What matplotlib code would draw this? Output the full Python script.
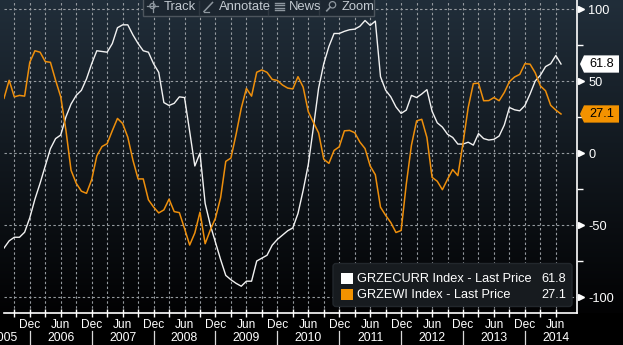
import matplotlib
matplotlib.use("Agg")
import matplotlib.pyplot as plt
import numpy as np
import pandas as pd
from matplotlib.transforms import blended_transform_factory
from matplotlib.patches import Polygon, FancyBboxPatch, Rectangle, Circle

plt.rcParams["font.family"] = ["Liberation Sans", "DejaVu Sans"]

# ---------------------------------------------------------------- data
months = pd.period_range("2005-07", "2014-07", freq="M")

# ZEW Germany current situation (white)
grzecurr = [
    -66, -61, -58.5, -58.5, -55, -45,                                   # 2005 H2
    -32, -21, -9, 3, 10, 12.5, 25, 34, 40, 43.5, 51.5, 62,              # 2006
    71, 70.5, 70, 76, 87, 89, 89, 82, 76, 71, 70, 62,                   # 2007
    56, 35, 33, 34.5, 39, 38.5, 15, -9, 0, -35, -50, -62,               # 2008
    -74, -85, -88, -90.5, -92.5, -89, -89, -75, -73, -71, -64, -60,     # 2009
    -57, -54, -52, -42, -26, -8, 18, 45, 62, 74, 83, 83,                # 2010
    84.5, 85.6, 86, 88, 92, 88.6, 91.6, 53, 43.6, 39, 32, 27.5,         # 2011
    29.8, 40, 38.5, 41, 44, 29, 21, 18, 13, 10.8, 6.2, 6.2,             # 2012
    7.5, 5.5, 13.5, 10, 9, 9.5, 11.8, 19.4, 31.6, 30, 29.3, 33,         # 2013
    41, 50, 54, 60, 62, 67.7, 61.8,                                     # 2014
]

# ZEW Germany economic sentiment (orange)
grzewi = [
    38, 50.5, 39, 40, 39.5, 63,                                         # 2005 H2
    71, 70, 63.5, 63, 50.5, 39, 16, -12, -21, -26.5, -28, -18.5,        # 2006
    -2, 4.5, 6.5, 15.5, 24, 20.5, 11, -5, -18, -18, -32.5, -37.5,       # 2007
    -41.6, -39.5, -32, -40.7, -41.4, -52.4, -63.9, -55.5, -41.1, -63, -53.5, -45.2,  # 2008
    -31, -5.8, -3.5, 13, 31.1, 44.8, 39.5, 56.1, 57.7, 56, 51.1, 50.4,  # 2009
    47.2, 45.1, 44.5, 53, 45.8, 28.7, 21.2, 14, -4.3, -7.2, 1.8, 4.3,   # 2010
    15.4, 15.7, 14.1, 7.6, 3.1, -9, -15.1, -37.6, -43.3, -48.3, -55.2, -53.8,  # 2011
    -21.6, 5.4, 22.3, 23.4, 10.8, -16.9, -19.6, -25.5, -18.2, -11.5, -15.7, 6.9,  # 2012
    31.5, 48.2, 48.5, 36.3, 36.4, 38.5, 36.3, 42, 49.6, 52.8, 54.6, 62,  # 2013
    61.7, 55.7, 46.6, 43.2, 33.1, 29.8, 27.1,                           # 2014
]

series_names = ["GRZECURR Index - Last Price", "GRZEWI Index - Last Price"]
y_ticks = [-100, -50, 0, 50, 100]
y_minor = [-75, -25, 25, 75]
toolbar_items = ["Track", "Annotate", "News", "Zoom"]

WHITE = "#f2f2f2"
ORANGE = "#ee8f0c"
TAG_ORANGE = "#f39200"

# ---------------------------------------------------------------- figure
W, H = 623, 345
fig = plt.figure(figsize=(W / 100, H / 100), dpi=100)
fig.patch.set_facecolor("black")

def fx(px):
    return px / W

def fy(py):
    return 1 - py / H

# dark blue-to-black gradient behind the chart
bg = fig.add_axes([0, 0, 1, 1], zorder=0)
bg.set_axis_off()
top = np.array([33, 46, 58]) / 255
bot = np.array([2, 2, 3]) / 255
t = np.clip(np.arange(H) / 313.0, 0, 1)[:, None]
grad = top * (1 - t) + bot * t
grad[313:] = 0
bg.imshow(np.repeat(grad[:, None, :], 2, axis=1), aspect="auto",
          extent=[0, 1, 0, 1], interpolation="bilinear")
bg.set_xlim(0, 1)
bg.set_ylim(0, 1)

ax = fig.add_axes([fx(4), fy(313), fx(577) - fx(4), fy(0) - fy(313)], zorder=1)
ax.patch.set_alpha(0)

x = np.arange(len(months))
ax.plot(x, grzecurr, color=WHITE, lw=1.0, zorder=3)
ax.plot(x, grzewi, color=ORANGE, lw=1.1, zorder=4)

ax.set_xlim(0, 111.1)
ax.set_ylim(-111.1, 106.25)

# dashed grid
quarters = x[months.month % 3 == 0]
for q in quarters:
    ax.axvline(q, color="#959a9f", lw=0.8, ls=(0, (2.2, 2.2)), zorder=1)
for yv in y_ticks:
    ax.axhline(yv, color="#959a9f", lw=0.8, ls=(0, (2.2, 2.2)), zorder=1)

# spines
for s in ["top", "left"]:
    ax.spines[s].set_visible(False)
for s in ["right", "bottom"]:
    ax.spines[s].set_color("white")
    ax.spines[s].set_linewidth(1.2)

# right value axis
ax.yaxis.tick_right()
ax.set_yticks(y_ticks)
ax.set_yticklabels([str(v) for v in y_ticks])
ax.set_yticks(y_minor, minor=True)
ax.tick_params(axis="y", which="major", length=0, pad=8.2, labelsize=9.2,
               labelcolor="white")
ax.tick_params(axis="y", which="minor", length=4.5, width=1, color="white")
yax_tr = blended_transform_factory(ax.transAxes, ax.transData)
ax.plot(np.full(len(y_ticks), 1.007), y_ticks, transform=yax_tr, ls="none",
        marker=">", ms=5, color="white", clip_on=False, zorder=6)

# bottom time axis
ax.set_xticks(quarters)
ax.tick_params(axis="x", which="major", direction="inout", length=6, width=1,
               color="white", labelbottom=False)
xfig = blended_transform_factory(ax.transData, fig.transFigure)
for i, p in enumerate(months):
    if p.month == 12:
        ax.text(i, fy(325), "Dec", transform=xfig, ha="center", va="center",
                color="white", fontsize=8.6, clip_on=False)
        ax.plot([i, i], [fy(331), fy(345)], transform=xfig, color="#d8d8d8",
                lw=0.9, clip_on=False)
    elif p.month == 6:
        ax.text(i, fy(325), "Jun", transform=xfig, ha="center", va="center",
                color="white", fontsize=8.6, clip_on=False)
for yr in sorted(set(months.year)):
    jun = pd.Period(f"{yr}-06", freq="M")
    pos = max((jun - months[0]).n, 0)
    ax.text(pos, fy(338), str(yr), transform=xfig, ha="center", va="center",
            color="white", fontsize=8.8, clip_on=False)

# last-price tags on the value axis
for val, fc in [(grzecurr[-1], "white"), (grzewi[-1], TAG_ORANGE)]:
    hh = 6.0
    tag = Polygon([(1.0052, val), (1.0122, val + hh), (1.0733, val + hh),
                   (1.0733, val - hh), (1.0122, val - hh)], closed=True,
                  transform=yax_tr, facecolor=fc, edgecolor="none",
                  clip_on=False, zorder=7)
    ax.add_patch(tag)
    ax.text(1.043, val, f"{val:.1f}", transform=yax_tr, ha="center",
            va="center", color="black", fontsize=9.2, clip_on=False, zorder=8)

# ---------------------------------------------------------------- overlay (pixel coords)
ov = fig.add_axes([0, 0, 1, 1], zorder=5)
ov.set_xlim(0, W)
ov.set_ylim(H, 0)
ov.axis("off")

# legend box
ov.add_patch(FancyBboxPatch((333, 263.5), 239, 43,
                            boxstyle="round,pad=0,rounding_size=3",
                            fc="#171b1f", ec="#22272c", lw=1))
for row, (name, val, col) in enumerate(
        [(series_names[0], grzecurr[-1], "white"),
         (series_names[1], grzewi[-1], TAG_ORANGE)]):
    yc = 278.5 + row * 16
    ov.add_patch(Rectangle((341, yc - 5.7), 11.7, 11.4, fc=col, ec="none"))
    ov.text(357, yc, name, ha="left", va="center", color="white", fontsize=9.2)
    ov.text(566, yc, f"{val:.1f}", ha="right", va="center", color="white",
            fontsize=9.2)

# chart toolbar
ov.add_patch(Rectangle((142.5, -2), 231.5, 18, fc="#1c2630", ec="#4d555d", lw=1))
for sx in [198.7, 268.3, 319.3]:
    ov.plot([sx, sx], [0.5, 15], color="#2f3841", lw=1)
icon_c = "#8e979f"
text_c = "#c3cad1"
# crosshair
ov.add_patch(Circle((152.5, 6), 2.6, fc="none", ec=icon_c, lw=0.9))
ov.plot([147, 158], [6, 6], color=icon_c, lw=0.9)
ov.plot([152.5, 152.5], [0.5, 11.5], color=icon_c, lw=0.9)
# pencil
ov.plot([204, 212.5], [11.5, 2.5], color=icon_c, lw=1.1)
ov.plot([204, 209], [11.5, 11.5], color=icon_c, lw=0.9)
# news lines
for ly in [2.5, 5, 7.5, 10]:
    ov.plot([275, 283.5], [ly, ly], color=icon_c, lw=1.0)
# magnifier
ov.add_patch(Circle((332.5, 4.8), 3.2, fc="none", ec=icon_c, lw=0.9))
ov.plot([330.2, 326.8], [7.2, 10.8], color=icon_c, lw=1.2)
for label, tx in zip(toolbar_items, [164, 219, 289, 342]):
    ov.text(tx, 6.5, label, ha="left", va="center", color=text_c, fontsize=9.4)

fig.savefig("out.png", dpi=100, facecolor="black")
